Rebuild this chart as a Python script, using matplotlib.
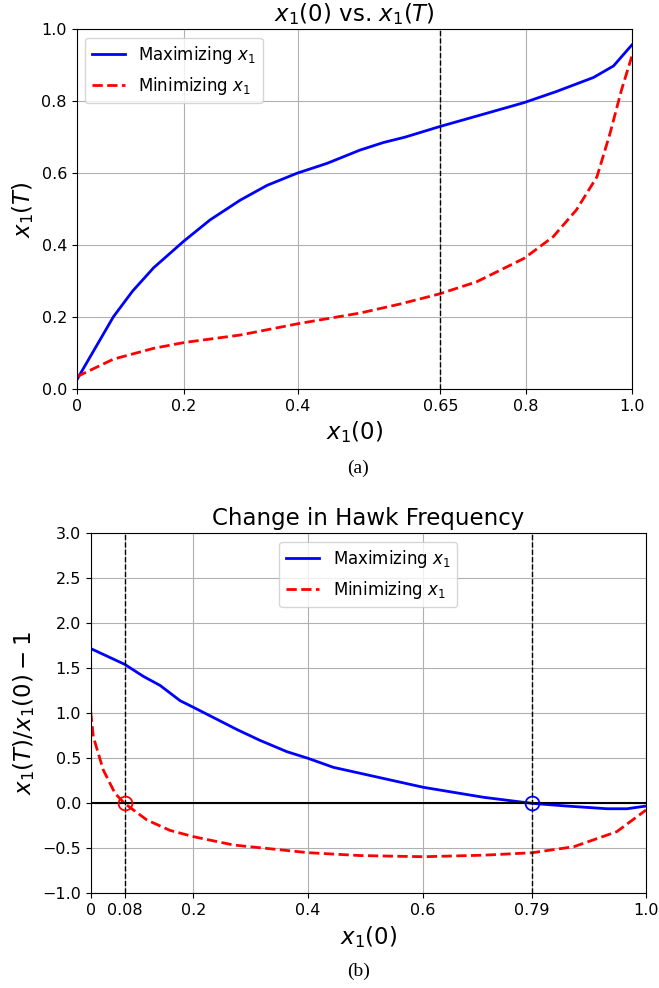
import matplotlib
matplotlib.use("Agg")
import matplotlib.pyplot as plt

# (a) x1(0) vs x1(T)
xa_lim = (0.012, 0.987)
xa_max = [0.012, 0.0765, 0.11, 0.147, 0.2, 0.246, 0.299, 0.346, 0.399, 0.451, 0.509, 0.55, 0.588,
          0.648, 0.726, 0.797, 0.854, 0.919, 0.954, 0.986]
ya_max = [0.025, 0.201, 0.272, 0.337, 0.411, 0.47, 0.525, 0.566, 0.6, 0.627, 0.664, 0.685, 0.70,
          0.729, 0.764, 0.796, 0.827, 0.866, 0.898, 0.956]
xa_min = [0.012, 0.0765, 0.147, 0.2, 0.299, 0.399, 0.45, 0.509, 0.579, 0.648, 0.714, 0.797,
          0.848, 0.889, 0.925, 0.948, 0.968, 0.986]
ya_min = [0.034, 0.083, 0.113, 0.129, 0.150, 0.181, 0.195, 0.211, 0.236, 0.264, 0.298, 0.363,
          0.423, 0.498, 0.590, 0.711, 0.831, 0.924]
xa_ticks = [xa_lim[0], 0.2, 0.4, 0.65, 0.8, xa_lim[1]]
xa_labels = ["0", "0.2", "0.4", "0.65", "0.8", "1.0"]

# (b) relative change x1(T)/x1(0) - 1
xb_lim = (0.021, 0.989)
xb_max = [0.021, 0.0804, 0.113, 0.142, 0.177, 0.2, 0.276, 0.316, 0.363, 0.4, 0.444, 0.49,
          0.601, 0.706, 0.79, 0.851, 0.921, 0.956, 0.989]
yb_max = [1.72, 1.544, 1.41, 1.31, 1.14, 1.067, 0.82, 0.70, 0.574, 0.5, 0.40, 0.335,
          0.178, 0.067, 0.0, -0.03, -0.06, -0.06, -0.03]
xb_min = [0.021, 0.0256, 0.043, 0.0635, 0.08, 0.119, 0.159, 0.2, 0.27, 0.4, 0.49, 0.601,
          0.706, 0.79, 0.863, 0.938, 0.989]
yb_min = [1.02, 0.74, 0.37, 0.11, 0.0, -0.185, -0.3, -0.37, -0.463, -0.548, -0.58, -0.593,
          -0.576, -0.549, -0.482, -0.315, -0.074]
xb_ticks = [xb_lim[0], 0.08, 0.2, 0.4, 0.6, 0.79, xb_lim[1]]
xb_labels = ["0", "0.08", "0.2", "0.4", "0.6", "0.79", "1.0"]

fig = plt.figure(figsize=(6.59, 9.88), dpi=100)

ax1 = fig.add_axes([0.1164, 0.6063, 0.8431, 0.3641])
ax1.plot(xa_max, ya_max, color='blue', lw=2, label='Maximizing $x_1$')
ax1.plot(xa_min, ya_min, color='red', lw=2, ls='--', label='Minimizing $x_1$')
ax1.axvline(0.65, color='black', ls='--', lw=1)
ax1.set_xlim(*xa_lim)
ax1.set_ylim(0, 1)
ax1.set_xticks(xa_ticks)
ax1.set_xticklabels(xa_labels)
ax1.tick_params(labelsize=11.5)
ax1.grid(True, color='#b0b0b0', lw=0.8)
ax1.set_xlabel('$x_1(0)$', fontsize=16.5)
ax1.set_ylabel('$x_1(T)$', fontsize=16.5)
ax1.set_title('$x_1(0)$ vs. $x_1(T)$', fontsize=16.5)
ax1.legend(loc='upper left', fontsize=12)

ax2 = fig.add_axes([0.1376, 0.0958, 0.8427, 0.3644])
ax2.plot(xb_max, yb_max, color='blue', lw=2, label='Maximizing $x_1$')
ax2.plot(xb_min, yb_min, color='red', lw=2, ls='--', label='Minimizing $x_1$')
ax2.axhline(0, color='black', lw=1.5)
ax2.axvline(0.08, color='black', ls='--', lw=1)
ax2.axvline(0.79, color='black', ls='--', lw=1)
ax2.plot([0.08], [0], 'o', mfc='none', mec='red', ms=10, mew=1.3)
ax2.plot([0.79], [0], 'o', mfc='none', mec='blue', ms=10, mew=1.3)
ax2.set_xlim(*xb_lim)
ax2.set_ylim(-1, 3)
ax2.set_xticks(xb_ticks)
ax2.set_xticklabels(xb_labels)
ax2.tick_params(labelsize=11.5)
ax2.grid(True, color='#b0b0b0', lw=0.8)
ax2.set_xlabel('$x_1(0)$', fontsize=16.5)
ax2.set_ylabel('$x_1(T)/x_1(0) - 1$', fontsize=16.5)
ax2.set_title('Change in Hawk Frequency', fontsize=16.5)
ax2.legend(loc='upper center', fontsize=12)

fig.text(0.543, 1 - 468 / 988, '(a)', ha='center', va='center', family='Liberation Serif', fontsize=14)
fig.text(0.544, 1 - 971 / 988, '(b)', ha='center', va='center', family='Liberation Serif', fontsize=14)

fig.savefig('out.png', dpi=100)
